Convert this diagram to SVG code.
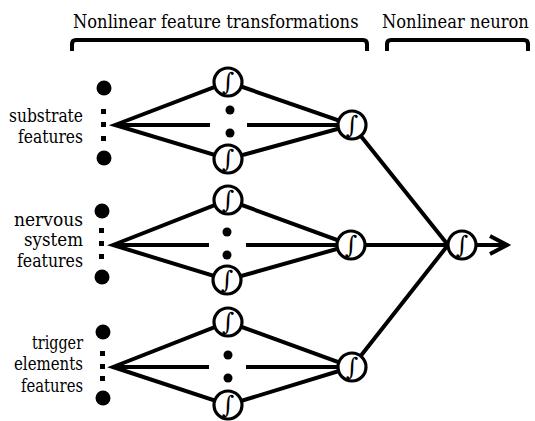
<svg xmlns="http://www.w3.org/2000/svg" width="535" height="421" viewBox="0 0 535 421">
<style>
text{font-family:'DejaVu Serif',serif;fill:#000}
.h{font-size:19px}
.l{font-size:18px;text-anchor:end}
.ln{stroke:#000;stroke-width:4;fill:none}
.br{stroke:#000;stroke-width:4;fill:none}
.n{fill:#fff;stroke:#000;stroke-width:3.2}
.s{font-size:24px;text-anchor:middle}
.d{fill:#000}
</style>
<rect width="535" height="421" fill="#fff"/>
<g id="headers">
<text class="h" transform="translate(73,28) scale(0.86,1)" x="0" y="0">Nonlinear feature transformations</text>
<text class="h" transform="translate(382,28) scale(0.86,1)" x="0" y="0">Nonlinear neuron</text>
<path class="br" d="M72,51 V44 Q72,40 76,40 H363 Q367,40 367,44 V51"/>
<path class="br" d="M387,51 V44 Q387,40 391,40 H524 Q528,40 528,44 V51"/>
</g>
<g id="connectors">
<path class="ln" d="M115,125 L228,82 L352,125 L228,159 Z"/>
<path class="ln" d="M115,125 H210 M247,125 H352"/>
<path class="ln" d="M113,245 L228,200 L351,245 L227,280 Z"/>
<path class="ln" d="M113,245 H209 M246,245 H351"/>
<path class="ln" d="M113,367 L228,322 L352,367 L228,405 Z"/>
<path class="ln" d="M113,367 H209 M246,367 H352"/>
<path class="ln" d="M352,125 L448,245 M351,245 H462 M352,367 L448,245"/>
<path class="ln" d="M462,245 H507 M490,236 L507,245 L490,254"/>
</g>
<g id="input1">
<circle class="d" cx="104" cy="88" r="7.5"/>
<rect class="d" x="101" y="109" width="5" height="5"/>
<rect class="d" x="101" y="122" width="5" height="5"/>
<rect class="d" x="101" y="136" width="5" height="5"/>
<circle class="d" cx="104" cy="158" r="7.5"/>
<text class="l" x="83" y="122" textLength="74" lengthAdjust="spacingAndGlyphs">substrate</text>
<text class="l" x="83" y="143" textLength="65" lengthAdjust="spacingAndGlyphs">features</text>
</g>
<g id="input2">
<circle class="d" cx="102" cy="211" r="7.5"/>
<rect class="d" x="99" y="228" width="5" height="5"/>
<rect class="d" x="99" y="241" width="5" height="5"/>
<rect class="d" x="99" y="254" width="5" height="5"/>
<circle class="d" cx="102" cy="277" r="7.5"/>
<text class="l" x="83" y="226" textLength="69" lengthAdjust="spacingAndGlyphs">nervous</text>
<text class="l" x="83" y="246" textLength="59" lengthAdjust="spacingAndGlyphs">system</text>
<text class="l" x="83" y="267" textLength="66" lengthAdjust="spacingAndGlyphs">features</text>
</g>
<g id="input3">
<circle class="d" cx="103" cy="332" r="7.5"/>
<rect class="d" x="100" y="351" width="5" height="5"/>
<rect class="d" x="100" y="364" width="5" height="5"/>
<rect class="d" x="100" y="376" width="5" height="5"/>
<circle class="d" cx="103" cy="398" r="7.5"/>
<text class="l" x="83" y="349" textLength="51" lengthAdjust="spacingAndGlyphs">trigger</text>
<text class="l" x="83" y="370" textLength="69" lengthAdjust="spacingAndGlyphs">elements</text>
<text class="l" x="83" y="392" textLength="62" lengthAdjust="spacingAndGlyphs">features</text>
</g>
<g id="hidden1">
<circle class="n" cx="228" cy="82" r="14"/><text class="s" x="228" y="90">∫</text>
<circle class="d" cx="230" cy="110" r="4.5"/>
<circle class="d" cx="230" cy="133" r="4.5"/>
<circle class="n" cx="228" cy="159" r="14"/><text class="s" x="228" y="167">∫</text>
</g>
<g id="hidden2">
<circle class="n" cx="228" cy="200" r="14"/><text class="s" x="228" y="208">∫</text>
<circle class="d" cx="227" cy="232" r="4.5"/>
<circle class="d" cx="227" cy="255" r="4.5"/>
<circle class="n" cx="227" cy="280" r="14"/><text class="s" x="227" y="288">∫</text>
</g>
<g id="hidden3">
<circle class="n" cx="228" cy="322" r="14"/><text class="s" x="228" y="330">∫</text>
<circle class="d" cx="228" cy="355" r="4.5"/>
<circle class="d" cx="228" cy="378" r="4.5"/>
<circle class="n" cx="228" cy="405" r="14"/><text class="s" x="228" y="413">∫</text>
</g>
<g id="out1"><circle class="n" cx="352" cy="125" r="14"/><text class="s" x="352" y="133">∫</text></g>
<g id="out2"><circle class="n" cx="351" cy="245" r="14"/><text class="s" x="351" y="253">∫</text></g>
<g id="out3"><circle class="n" cx="352" cy="367" r="14"/><text class="s" x="352" y="375">∫</text></g>
<g id="final"><circle class="n" cx="462" cy="245" r="14"/><text class="s" x="462" y="253">∫</text></g>
</svg>
